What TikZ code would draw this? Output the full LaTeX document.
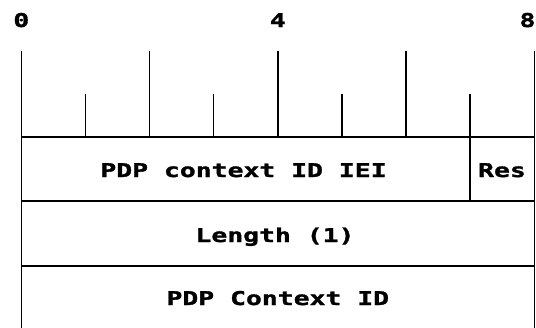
\documentclass[tikz,border=0pt]{standalone}
\usepackage{fontspec}
\newfontfamily\pixfont{DejaVu Sans Mono}[FakeStretch=1.39, BoldFeatures={FakeBold=1.5}]

\begin{document}
\begin{tikzpicture}[x=1pt, y=-1pt, line width=1.5pt,
    field/.style={font=\pixfont\bfseries\fontsize{19}{22}\selectfont, anchor=base, inner sep=0pt}]
  \useasboundingbox (0,0) rectangle (536,327);
  \def\bw{64.13}

  % bit numbers
  \node[field] at (21.3,27) (n0) {0};
  \node[field] at (277.8,27) (n4) {4};
  \node[field] at (527.5,27) (n8) {8};

  % ruler
  \draw (21.3,51) -- (21.3,335);
  \draw (534.3,51) -- (534.3,335);
  \foreach \i in {2,4,6}
    \draw ({21.3+\i*\bw},51) -- ({21.3+\i*\bw},137);
  \foreach \i in {1,3,5,7}
    \draw ({21.3+\i*\bw},94) -- ({21.3+\i*\bw},137);

  % octets
  \draw (21.3,137) -- (534.3,137);
  \draw (21.3,201) -- (534.3,201);
  \draw (21.3,266) -- (534.3,266);
  \draw (470,137) -- (470,201);

  \node[field] at (243.5,177) (iei) {PDP context ID IEI};
  \node[field] at (502,177) (res) {Res};
  \node[field] at (275,242) (len) {Length (1)};
  \node[field] at (277.8,305) (cid) {PDP Context ID};
\end{tikzpicture}
\end{document}
